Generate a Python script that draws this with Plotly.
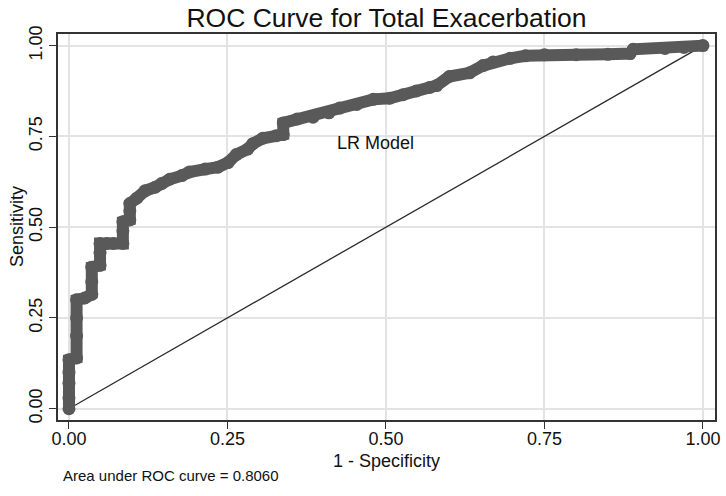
import plotly.graph_objects as go

# ROC curve points (1 - specificity, sensitivity)
fpr = [0.0, 0.0, 0.0, 0.0, 0.0, 0.012, 0.012, 0.012, 0.012, 0.025, 0.036, 0.036, 0.036,
       0.049, 0.049, 0.049, 0.06, 0.07, 0.085, 0.085, 0.085, 0.096, 0.096, 0.096, 0.107,
       0.12, 0.136, 0.146, 0.159, 0.178, 0.19, 0.215, 0.235, 0.251, 0.264, 0.282, 0.29,
       0.306, 0.327, 0.338, 0.338, 0.36, 0.385, 0.41, 0.427, 0.454, 0.48, 0.506, 0.527,
       0.548, 0.569, 0.58, 0.60, 0.632, 0.653, 0.669, 0.696, 0.72, 0.75, 0.80, 0.85,
       0.885, 0.89, 0.94, 0.97, 1.0]
tpr = [0.0, 0.03, 0.07, 0.10, 0.135, 0.14, 0.20, 0.25, 0.30, 0.305, 0.315, 0.35, 0.39,
       0.395, 0.43, 0.455, 0.455, 0.455, 0.455, 0.49, 0.515, 0.52, 0.545, 0.565, 0.58,
       0.60, 0.61, 0.62, 0.632, 0.642, 0.652, 0.66, 0.665, 0.678, 0.70, 0.715, 0.73,
       0.745, 0.752, 0.755, 0.787, 0.798, 0.803, 0.815, 0.828, 0.838, 0.852, 0.855, 0.865,
       0.875, 0.885, 0.89, 0.915, 0.925, 0.945, 0.955, 0.965, 0.972, 0.975, 0.975, 0.976,
       0.978, 0.99, 0.992, 0.995, 1.0]
ref_x = [0, 1]
ref_y = [0, 1]
tick_vals = [0, 0.25, 0.5, 0.75, 1.0]
tick_text = ["0.00", "0.25", "0.50", "0.75", "1.00"]

FONT = "Liberation Sans, Arial, Helvetica, sans-serif"
W, H = 726, 496

fig = go.Figure()
fig.add_trace(go.Scatter(x=ref_x, y=ref_y, mode="lines",
                         line=dict(color="#2a2a2a", width=1.3), showlegend=False))
fig.add_trace(go.Scatter(x=fpr, y=tpr, mode="lines+markers",
                         line=dict(color="#595959", width=12),
                         marker=dict(color="#595959", size=13),
                         showlegend=False))

fig.add_annotation(x=0.484, y=0.732, text="LR Model", showarrow=False,
                   font=dict(size=18, color="#111", family=FONT))
fig.add_annotation(xref="paper", yref="paper", x=0.005, y=-0.1425,
                   xanchor="left", yanchor="middle",
                   text="Area under ROC curve = 0.8060", showarrow=False,
                   font=dict(size=15, color="#111", family=FONT))
fig.add_annotation(xref="paper", yref="paper", x=0.5, y=-0.106,
                   xanchor="center", yanchor="middle",
                   text="1 - Specificity", showarrow=False,
                   font=dict(size=18, color="#111", family=FONT))
fig.add_annotation(xref="paper", yref="paper", x=-0.0624, y=0.5,
                   xanchor="center", yanchor="middle", textangle=-90,
                   text="Sensitivity", showarrow=False,
                   font=dict(size=18, color="#111", family=FONT))

axis_common = dict(showgrid=True, gridcolor="#e3e3e3", gridwidth=1.5,
                   zeroline=False, showline=True, linecolor="#333", linewidth=1.5,
                   mirror=True, ticks="outside", ticklen=7, tickwidth=1.3,
                   tickcolor="#333", tickvals=tick_vals, ticktext=tick_text,
                   automargin=False,
                   tickfont=dict(size=18, color="#111", family=FONT))

fig.update_layout(
    width=W, height=H,
    margin=dict(l=58, r=11, t=34, b=76),
    paper_bgcolor="white", plot_bgcolor="white",
    hovermode=False,
    title=dict(text="ROC Curve for Total Exacerbation", x=0.5, xref="paper",
               y=1 - 18 / H, yref="container", yanchor="middle", xanchor="center",
               automargin=False,
               font=dict(size=26.5, color="#111", family=FONT)),
    xaxis=dict(range=[-0.0173, 1.019], ticklabelstandoff=-5, **axis_common),
    yaxis=dict(range=[-0.031, 1.032], tickangle=-90, **axis_common),
)

fig.write_html("out.html", config={"displayModeBar": False},
               post_script="document.body.style.margin='0';")
